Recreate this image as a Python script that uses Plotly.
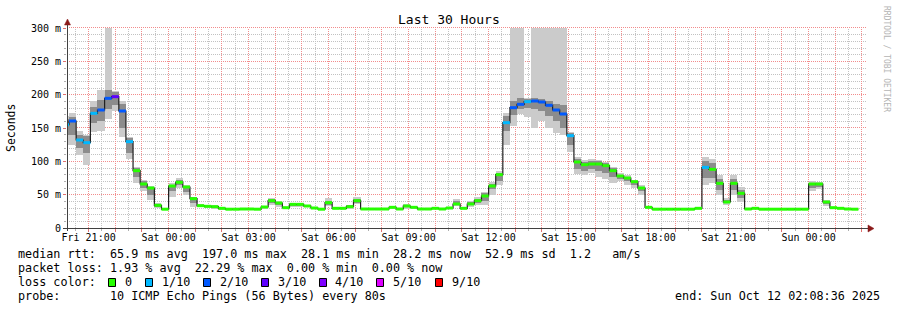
import math
import plotly.graph_objects as go
from datetime import datetime, timedelta

# ---------------- data ----------------
BIN_START = datetime(2025, 10, 10, 20, 0)   # start of first (partially visible) 16-min bin
BIN_MINUTES = 16

median = [
    155, 160.5, 132, 128, 172, 177, 194.5, 197, 175.5, 129.5,
    86, 66, 60, 34, 28.2, 63, 68.5, 61.5, 44, 33.5,
    32.5, 32, 29.5, 28.2, 28.2, 28.5, 28.5, 28.2, 31.5, 41,
    37.5, 30.5, 35.5, 35.5, 33, 30, 28.2, 38, 29.5, 29.5,
    32, 41, 28.5, 28.5, 28.5, 28.5, 31, 28.5, 33, 31,
    28.5, 28.5, 29.5, 28.5, 30, 36, 29.5, 36, 41, 48,
    63, 80, 158, 180.5, 185.5, 189.5, 190.5, 189, 184, 177,
    171, 138.5, 99, 95, 96, 96, 93.5, 86, 78, 75,
    69.5, 60, 31, 28.2, 28.2, 28.2, 28.2, 28.2, 28.2, 29.5,
    91, 88, 67, 39, 67, 52, 28.5, 29.5, 28.2, 28.2,
    28.2, 28.2, 28.2, 28.2, 28.2, 66, 66, 39, 30.5, 29.5,
    28.5, 28.2,
]

# lost pings (of 10) per bin
loss = [
    1, 2, 1, 1, 1, 2, 2, 3, 2, 1,
    0, 0, 0, 0, 0, 0, 0, 0, 0, 0,
    0, 0, 0, 0, 0, 0, 0, 0, 0, 0,
    0, 0, 0, 0, 0, 0, 0, 0, 0, 0,
    0, 0, 0, 0, 0, 0, 0, 0, 0, 0,
    0, 0, 0, 0, 0, 0, 0, 0, 0, 0,
    0, 0, 1, 2, 2, 1, 2, 2, 2, 2,
    2, 1, 0, 0, 0, 0, 0, 0, 0, 0,
    0, 0, 0, 0, 0, 0, 0, 0, 0, 0,
    1, 0, 0, 0, 0, 0, 0, 0, 0, 0,
    0, 0, 0, 0, 0, 0, 0, 0, 0, 0,
    0, 0,
]

smoke_lo = [
    125, 124, 110, 95, 144, 145, 163, 176, 136, 103,
    68, 56, 42, 30, 27, 46, 60, 49, 32, 31,
    30, 29, 27.5, 27, 27, 27, 27, 27, 28, 34,
    31, 28, 32, 32, 31, 28, 27, 33, 28, 28,
    29, 36, 27, 27, 27, 27, 29, 27, 29, 29,
    27, 27, 28, 27, 28, 33, 28, 32, 34, 34.5,
    50, 64, 124, 153, 171, 167, 150, 160, 150, 142,
    140, 114, 81, 80, 82, 77, 74, 68, 70, 65,
    60, 50, 29, 27, 27, 27, 27, 27, 27, 28,
    64.5, 67, 50, 35, 50, 39.5, 27, 28, 27, 27,
    27, 27, 27, 27, 27, 55, 58, 33, 29, 28,
    27, 27,
]

smoke_hi = [
    168, 172, 145, 140, 190, 207, 300, 206, 191, 137,
    92, 72, 63.5, 37.5, 30, 67, 75, 64.5, 47, 36,
    35, 34, 31, 30, 30, 30, 30, 30, 33, 45,
    40, 32, 37, 37, 35, 32, 30, 45, 31, 31,
    35, 46.5, 30, 30, 30, 30, 33, 30, 36, 33,
    30, 30, 31, 30, 32, 43.5, 32, 41, 46, 54.5,
    69, 86, 172, 300, 300, 195, 300, 300, 300, 300,
    300, 144.5, 107, 102, 104, 102, 99, 92, 82, 79,
    72, 64, 33, 30, 30, 30, 30, 30, 30, 31,
    107, 104, 80, 45, 80, 62, 30, 31, 30, 30,
    30, 30, 30, 30, 30, 71, 69, 42, 32, 31,
    30, 30,
]

N = None
core_lo = [
    140, 140, 120, 112, 158, 160, 178, 184, 150, 112,
    76, 60, 50, 32, N, 55, 64, 54, 38, 32,
    31, 30, N, N, N, N, N, N, N, 37,
    34, N, 33, 33, 32, N, N, 35, N, N,
    30, 38, N, N, N, N, N, N, 31, N,
    N, N, N, N, N, 34, N, 34, 37, 41,
    58, 70, 145, 170, 178, 180, 178, 175, 168, 160,
    150, 125, 88, 86, 88, 86, 82, 76, 74, 70,
    64, 55, N, N, N, N, N, N, N, N,
    75, 75, 57, 37, 57, 45, N, N, N, N,
    N, N, N, N, N, 60, 62, 36, N, N,
    N, N,
]

core_hi = [
    163, 167, 140, 138, 182, 192, 207, 204, 186, 135,
    90, 70, 62, 36, N, 65, 72, 63, 46, 35,
    34, 33, N, N, N, N, N, N, N, 43,
    39, N, 36.5, 36.5, 34.5, N, N, 41, N, N,
    34, 44, N, N, N, N, N, N, 35, N,
    N, N, N, N, N, 40, N, 39, 44, 52,
    66, 83, 168, 190, 195, 193, 195, 194, 190, 186,
    185, 142, 104, 99, 101, 100, 97, 90, 80, 77,
    71, 62, N, N, N, N, N, N, N, N,
    100, 97, 74, 42, 74, 57, N, N, N, N,
    N, N, N, N, N, 68, 68, 41, N, N,
    N, N,
]

loss_labels = ["0", "1/10", "2/10", "3/10", "4/10", "5/10", "9/10"]
loss_colors = ["#26ff00", "#00b8ff", "#0059ff", "#5e00ff", "#7e00ff", "#dd00ff", "#ff0000"]

tick_times = [datetime(2025, 10, 10, 21) + timedelta(hours=h) for h in range(30)]
minor_times = [datetime(2025, 10, 10, 20, 30) + timedelta(hours=h) for h in range(31)]
tick_labels_3h = ["Fri 21:00", "Sat 00:00", "Sat 03:00", "Sat 06:00", "Sat 09:00",
                  "Sat 12:00", "Sat 15:00", "Sat 18:00", "Sat 21:00", "Sun 00:00"]
y_tickvals = [0, 50, 100, 150, 200, 250, 300]
y_ticktext = ["0", "50 m", "100 m", "150 m", "200 m", "250 m", "300 m"]
y_minorvals = [v for v in range(10, 300, 10) if v % 50 != 0]

stats_lines = [
    "median rtt:  65.9 ms avg  197.0 ms max  28.1 ms min  28.2 ms now  52.9 ms sd  1.2   am/s",
    "packet loss: 1.93 % avg  22.29 % max  0.00 % min  0.00 % now",
    "loss color:",
    "probe:       10 ICMP Echo Pings (56 Bytes) every 80s",
]
end_text = "end: Sun Oct 12 02:08:36 2025"
title_text = "Last 30 Hours"
x_range = [datetime(2025, 10, 10, 20, 11, 24), datetime(2025, 10, 12, 2, 11, 24)]
Y_MAX = 300

# ---------------- geometry helpers (pixel -> paper) ----------------
W, H = 897, 310
ML, MR, MT, MB = 67, 30, 28, 82
PW, PH = W - ML - MR, H - MT - MB
SPAN = (x_range[1] - x_range[0]).total_seconds()


def px(x):
    return (x - ML) / PW


def py(y):
    return (MT + PH - y) / PH


def t2pix(t):
    return ML + (t - x_range[0]).total_seconds() / SPAN * PW


def v2pix(v):
    return MT + PH - v / Y_MAX * PH


def crisp(p):
    return math.floor(p) + 0.5


FONT = "DejaVu Sans Mono"
step = timedelta(minutes=BIN_MINUTES)
starts = [BIN_START + i * step for i in range(len(median))]
centers = [s + step / 2 for s in starts]
width_ms = BIN_MINUTES * 60 * 1000

fig = go.Figure()

# smoke: outer band
fig.add_trace(go.Bar(
    x=centers, y=[h - l for l, h in zip(smoke_lo, smoke_hi)], base=smoke_lo,
    width=width_ms, marker=dict(color="#cbcbcb", line=dict(width=0)),
    hoverinfo="skip", showlegend=False))
# smoke: inner band
fig.add_trace(go.Bar(
    x=centers,
    y=[(h - l) if l is not None else None for l, h in zip(core_lo, core_hi)],
    base=[l if l is not None else 0 for l in core_lo],
    width=width_ms, marker=dict(color="#8c8c8c", line=dict(width=0)),
    hoverinfo="skip", showlegend=False))

# median step line (black)
fig.add_trace(go.Scatter(
    x=starts + [starts[-1] + step], y=median + [median[-1]],
    mode="lines", line=dict(color="#202020", width=1.2, shape="hv"),
    hoverinfo="skip", showlegend=False))

# coloured median segments by loss
for lvl, col in enumerate(loss_colors):
    xs, ys = [], []
    for s, m, l in zip(starts, median, loss):
        if l == lvl:
            xs += [s, s + step, None]
            ys += [m, m, None]
    if xs:
        fig.add_trace(go.Scatter(x=xs, y=ys, mode="lines",
                                 line=dict(color=col, width=3),
                                 hoverinfo="skip", showlegend=False))

tick_text = []
k = 0
for t in tick_times:
    if t.hour % 3 == 0:
        tick_text.append(tick_labels_3h[k])
        k += 1
    else:
        tick_text.append("")

RED_GRID = "#f28c8c"
GRAY_GRID = "#c2c2c2"

fig.update_layout(
    width=W, height=H,
    margin=dict(l=ML, r=MR, t=MT, b=MB, autoexpand=False),
    paper_bgcolor="white", plot_bgcolor="white",
    barmode="overlay", bargap=0,
    font=dict(family=FONT, size=10, color="black"),
    showlegend=False,
    xaxis=dict(
        type="date", range=x_range, tickmode="array", tickvals=tick_times, ticktext=tick_text,
        showgrid=False,
        ticks="outside", ticklen=3, tickcolor="#e07070",
        showline=False, zeroline=False, automargin=False,
        ticklabelstandoff=-3,
        tickfont=dict(family=FONT, size=10, color="black"),
        minor=dict(tickmode="array", tickvals=minor_times, showgrid=False,
                   ticks="outside", ticklen=2, tickcolor="#b0b0b0"),
        fixedrange=True,
    ),
    yaxis=dict(
        range=[0, Y_MAX], tickmode="array", tickvals=y_tickvals, ticktext=y_ticktext,
        showgrid=False,
        ticks="outside", ticklen=3, tickcolor="#e07070",
        showline=False, zeroline=False, automargin=False,
        tickfont=dict(family=FONT, size=10, color="black"),
        minor=dict(tickmode="array", tickvals=y_minorvals, showgrid=False,
                   ticks="outside", ticklen=2, tickcolor="#b0b0b0"),
        fixedrange=True,
    ),
)

shapes = []
# grid (drawn on whole pixels, below the data): minor first, then major
for v in y_minorvals:
    Y = py(crisp(v2pix(v)))
    shapes.append(dict(type="line", xref="paper", yref="paper", layer="below",
                       x0=0, x1=1, y0=Y, y1=Y,
                       line=dict(color=GRAY_GRID, width=1, dash="1px,1px")))
for t in minor_times:
    xp = t2pix(t)
    if ML < xp < ML + PW:
        X = px(crisp(xp))
        shapes.append(dict(type="line", xref="paper", yref="paper", layer="below",
                           x0=X, x1=X, y0=0, y1=1,
                           line=dict(color=GRAY_GRID, width=1, dash="1px,1px")))
for v in y_tickvals[1:]:
    Y = py(crisp(v2pix(v) - 0.01))
    shapes.append(dict(type="line", xref="paper", yref="paper", layer="below",
                       x0=0, x1=1, y0=Y, y1=Y,
                       line=dict(color=RED_GRID, width=1, dash="1px,1px")))
for t in tick_times:
    xp = t2pix(t)
    if ML < xp < ML + PW:
        X = px(crisp(xp))
        shapes.append(dict(type="line", xref="paper", yref="paper", layer="below",
                           x0=X, x1=X, y0=0, y1=1,
                           line=dict(color=RED_GRID, width=1, dash="1px,1px")))

AX = "#404040"
ARROW = "#8b1a1a"
# y axis line and arrow
shapes.append(dict(type="line", xref="paper", yref="paper",
                   x0=px(67.5), x1=px(67.5), y0=py(231), y1=py(22),
                   line=dict(color=AX, width=1)))
shapes.append(dict(type="path", xref="paper", yref="paper",
                   path=f"M {px(64.5)} {py(25)} L {px(70.5)} {py(25)} L {px(67.5)} {py(19)} Z",
                   fillcolor=ARROW, line=dict(color=ARROW, width=0.5)))
# x axis line and arrow
shapes.append(dict(type="line", xref="paper", yref="paper",
                   x0=px(63), x1=px(870), y0=py(228.5), y1=py(228.5),
                   line=dict(color=AX, width=1)))
shapes.append(dict(type="path", xref="paper", yref="paper",
                   path=f"M {px(868)} {py(225)} L {px(868)} {py(232)} L {px(874)} {py(228.5)} Z",
                   fillcolor=ARROW, line=dict(color=ARROW, width=0.5)))

annotations = []
# title
annotations.append(dict(text=title_text, xref="paper", yref="paper",
                        x=px(448.5), y=py(19.5), xanchor="center", yanchor="middle",
                        showarrow=False, font=dict(family=FONT, size=13, color="black")))
# y label
annotations.append(dict(text="Seconds", xref="paper", yref="paper",
                        x=px(11), y=py(128), xanchor="center", yanchor="middle",
                        textangle=-90, showarrow=False,
                        font=dict(family=FONT, size=11.5, color="black")))
# watermark
annotations.append(dict(text="RRDTOOL / TOBI OETIKER", xref="paper", yref="paper",
                        x=px(887), y=py(59), xanchor="center", yanchor="middle",
                        textangle=90, showarrow=False,
                        font=dict(family=FONT, size=8, color="#b4b4b4")))
# stats lines
line_y = [254.3, 268.3, 282.3, 296.2]
for txt, yy in zip(stats_lines, line_y):
    annotations.append(dict(text=txt.replace(" ", "&nbsp;"), xref="paper", yref="paper",
                            x=px(16), y=py(yy), xanchor="left", yanchor="middle",
                            showarrow=False,
                            font=dict(family=FONT, size=11.75, color="black")))
annotations.append(dict(text=end_text, xref="paper", yref="paper",
                        x=px(882), y=py(296.2), xanchor="right", yanchor="middle",
                        showarrow=False, font=dict(family=FONT, size=11.75, color="black")))

# loss colour legend
sq_x = [108.5, 145.5, 203.5, 261.5, 319.5, 376.5, 435.5]
lab_x = [123.0, 160.0, 217.7, 275.7, 333.3, 391.0, 450.0]
for col, lab, sx, lx in zip(loss_colors, loss_labels, sq_x, lab_x):
    shapes.append(dict(type="rect", xref="paper", yref="paper",
                       x0=px(sx), x1=px(sx + 7), y0=py(278.5), y1=py(286.5),
                       fillcolor=col, line=dict(color="black", width=1)))
    annotations.append(dict(text=lab, xref="paper", yref="paper",
                            x=px(lx), y=py(282.3), xanchor="left", yanchor="middle",
                            showarrow=False,
                            font=dict(family=FONT, size=11.75, color="black")))

fig.update_layout(shapes=shapes, annotations=annotations)
fig.write_html("out.html")
